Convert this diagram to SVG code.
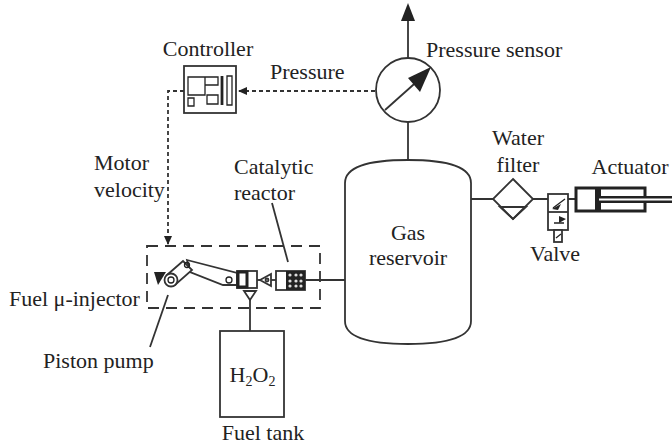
<svg xmlns="http://www.w3.org/2000/svg" width="672" height="446" viewBox="0 0 672 446">
<style>
text{font-family:"Liberation Serif",serif;font-size:22px;fill:#222}
.s{fill:none;stroke:#333;stroke-width:1.8}
.w{fill:#fff;stroke:#333;stroke-width:1.8}
.t{fill:none;stroke:#222;stroke-width:1.3}
.k{fill:#222;stroke:none}
.d{fill:none;stroke:#333;stroke-width:1.8;stroke-dasharray:4 3}
.m{text-anchor:middle}
</style>
<defs>
<marker id="a" markerWidth="10" markerHeight="10" refX="8" refY="5" orient="auto" markerUnits="userSpaceOnUse"><path d="M0 1L9 5L0 9Z" fill="#222"/></marker>
</defs>
<rect width="672" height="446" fill="#fff"/>
<g id="connectors">
<path class="s" d="M408 90V8"/>
<path class="k" d="M408 3L401 21H415Z"/>
<path class="s" d="M408 122V160"/>
<path class="d" d="M375 91H239" marker-end="url(#a)"/>
<path class="d" d="M184 91H168V244" marker-end="url(#a)"/>
<path class="s" d="M470 199H493M533 199H548M567 199H576"/>
<path class="s" d="M305 280H345"/>
<path class="s" d="M271 280H276"/>
<path class="s" d="M250 290V331"/>
<path class="s" d="M272 203L288 262"/>
<path class="s" d="M168 295L150 347"/>
</g>
<g id="pressure-sensor">
<circle class="w" cx="408" cy="90" r="32"/>
<path class="s" d="M385 110L422 77"/>
<path class="k" d="M431 67L408 78L420 92Z"/>
<text x="426" y="57">Pressure sensor</text>
</g>
<g id="pressure-label"><text x="270" y="79">Pressure</text></g>
<g id="controller">
<text x="208" y="56" class="m">Controller</text>
<rect class="s" x="184" y="66" width="52" height="47"/>
<path class="t" d="M188 77H205V95H188ZM205 77H218V85H205ZM188 98H194V106H188ZM207 95H218V104H207Z"/>
<path class="t" d="M227 76H232V105H227Z"/>
<path d="M222 76V105" stroke="#222" stroke-width="2.8"/>
</g>
<g id="motor-velocity">
<text x="94" y="170">Motor</text>
<text x="94" y="197">velocity</text>
</g>
<g id="catalytic-label">
<text x="234" y="174">Catalytic</text>
<text x="234" y="200">reactor</text>
</g>
<g id="gas-reservoir">
<path class="w" d="M345 183Q345 160 408 160Q471 160 471 183V321Q471 344 408 344Q345 344 345 321Z"/>
<text x="408" y="240" class="m">Gas</text>
<text x="408" y="265" class="m">reservoir</text>
</g>
<g id="water-filter">
<text x="518" y="145" class="m">Water</text>
<text x="518" y="172" class="m">filter</text>
<path class="w" d="M513 179L533 199L513 219L493 199Z"/>
<path class="s" d="M500 207H526L513 219Z"/>
</g>
<g id="valve">
<rect class="w" x="548" y="194" width="20" height="36"/>
<path class="s" d="M548 212H568"/>
<rect class="w" x="554" y="230" width="8" height="12"/>
<path class="t" d="M553 208L565 199M554 223H564M556 238L561 234"/>
<path class="k" d="M552 209L561 204L558 210Z"/>
<path class="k" d="M566 219L559 216V223Z"/>
<text x="555" y="261" class="m">Valve</text>
</g>
<g id="actuator">
<text x="630" y="174" class="m">Actuator</text>
<rect x="576" y="188" width="69" height="23" fill="#fff" stroke="#222" stroke-width="3"/>
<path d="M598 187V212" stroke="#222" stroke-width="6"/>
<path d="M599 199.500H672" stroke="#222" stroke-width="7"/>
<path d="M599 199.500H672" stroke="#fff" stroke-width="1.8"/>
</g>
<g id="fuel-injector">
<text x="9" y="306">Fuel μ-injector</text>
<path class="s" d="M147 246H320V308H147Z" style="stroke-dasharray:11 7"/>
<path class="k" d="M154 272H166L158 285Z"/>
<path class="w" d="M187 260L237 273V285H223L190 272Z"/>
<path class="w" d="M167 275L183 261L192 270L175 285Z"/>
<circle class="w" cx="171" cy="280" r="6.500"/>
<circle class="t" cx="187" cy="265" r="2.500"/>
<circle class="t" cx="171" cy="280" r="3"/>
<circle class="t" cx="229" cy="280" r="3"/>
<rect class="w" x="237" y="271" width="20" height="17"/>
<path d="M238 272H247V287H238Z" fill="#fff" stroke="#222" stroke-width="3"/>
<path class="s" d="M257 280H260"/>
<path class="w" d="M260 280L271 274V286Z"/>
<circle class="s" cx="267" cy="280" r="1.500"/>
<path class="w" d="M250 300L244 291H256Z"/>
<rect class="w" x="276" y="271" width="29" height="19"/>
<rect class="k" x="286" y="271" width="19" height="19"/>
<g fill="#ddd"><circle cx="290" cy="275" r="1.600"/><circle cx="296" cy="275" r="1.600"/><circle cx="301" cy="275" r="1.600"/><circle cx="290" cy="281" r="1.600"/><circle cx="296" cy="281" r="1.600"/><circle cx="301" cy="281" r="1.600"/><circle cx="290" cy="286" r="1.600"/><circle cx="296" cy="286" r="1.600"/><circle cx="301" cy="286" r="1.600"/></g>
</g>
<g id="piston-pump"><text x="43" y="368">Piston pump</text></g>
<g id="fuel-tank">
<rect class="s" x="220" y="331" width="64" height="86" style="fill:#fff"/>
<text x="252.500" y="382" class="m">H<tspan font-size="14" dy="4">2</tspan><tspan dy="-4">O</tspan><tspan font-size="14" dy="4">2</tspan></text>
<text x="263" y="440" class="m">Fuel tank</text>
</g>
</svg>
